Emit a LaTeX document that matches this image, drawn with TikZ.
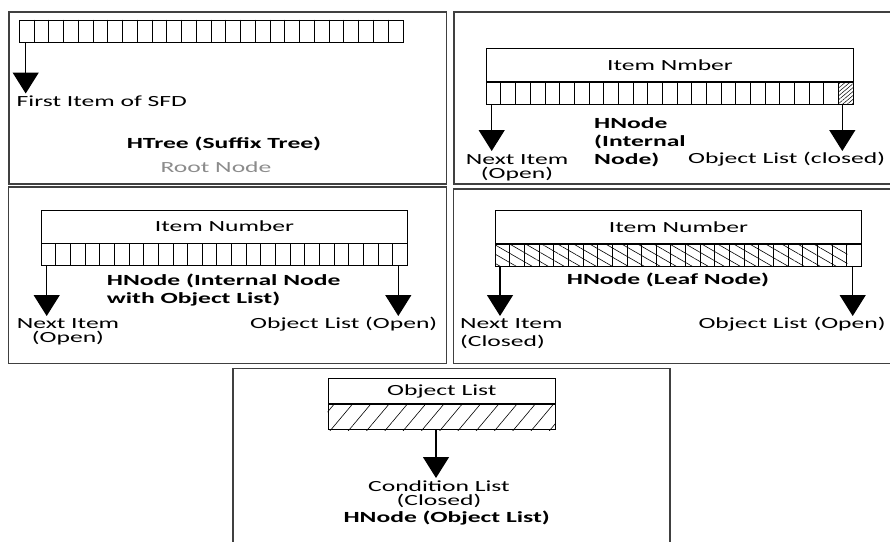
\documentclass[tikz,border=0pt]{standalone}
\usepackage{fontspec}
\setmainfont{Carlito}[FakeStretch=1.65]
\usetikzlibrary{arrows.meta,patterns.meta,positioning}

\tikzset{
  panel/.style={draw=black!75, line width=1.3pt},
  field/.style={draw, line width=0.9pt, inner sep=0pt, anchor=north west},
  txt/.style={inner sep=0pt, font=\fontsize{15.5}{14.5}\selectfont},
  bold/.style={inner sep=0pt, font=\fontsize{15.5}{18}\selectfont\bfseries},
  link/.style={-{Triangle[width=26pt,length=21pt]}, line width=1.3pt}
}

\begin{document}
\begin{tikzpicture}[x=1pt, y=-1pt]
    \useasboundingbox (0,0) rectangle (890,541);
    \clip (0,0) rectangle (890,541);

    % HTree (root node)
    \draw[panel] (9,12) rectangle (446.5,184);
    \node[field, minimum width=383.5pt, minimum height=22pt] (row1) at (19,19.5) {};
    \foreach \i in {1,...,25}
        \draw ([xshift=\i*14.75pt]row1.north west) -- ([xshift=\i*14.75pt]row1.south west);
    \coordinate (first1) at (25.7,93.5);
    \draw[link] (row1.south -| first1) -- (first1);
    \node[txt, anchor=north west] (firstlbl1) at (16.5,96) {First Item of SFD};
    \node[bold] (title1) at (224,144) {HTree (Suffix Tree)};
    \node[txt, text=black!45] (root1) at (216,166.7) {Root Node};

    % HNode (internal node)
    \draw[panel] (454,12) rectangle (900,184);
    \node[field, minimum width=367pt, minimum height=33pt, txt] (num2) at (486,48) {Item Nmber};
    \node[field, minimum width=367pt, minimum height=22pt] (row2) at (num2.south west) {};
    \fill[pattern={Lines[angle=40,distance=3pt,line width=0.5pt]}]
        ([xshift=-14.68pt]row2.north east) rectangle (row2.south east);
    \foreach \i in {1,...,24}
        \draw ([xshift=\i*14.68pt]row2.north west) -- ([xshift=\i*14.68pt]row2.south west);
    \coordinate (next2) at (491.7,151);
    \coordinate (obj2) at (842.3,151);
    \draw[link] (row2.south -| next2) -- (next2);
    \draw[link] (row2.south -| obj2) -- (obj2);
    \node[txt, align=center, anchor=north] (nextlbl2) at (517,154) {Next Item\\(Open)};
    \node[bold, align=left, anchor=north west] (title2) at (594,117) {HNode\\(Internal\\Node)};
    \node[txt, anchor=north west] (objlbl2) at (688,151.5) {Object List (closed)};

    % HNode (internal node with object list)
    \draw[panel] (8.5,187) rectangle (446.5,363.5);
    \node[field, minimum width=366pt, minimum height=33pt, txt] (num3) at (41,209.5) {Item Number};
    \node[field, minimum width=366pt, minimum height=22pt] (row3) at (num3.south west) {};
    \foreach \i in {1,...,24}
        \draw ([xshift=\i*14.64pt]row3.north west) -- ([xshift=\i*14.64pt]row3.south west);
    \coordinate (next3) at (46.7,316);
    \coordinate (obj3) at (398.3,316);
    \draw[link] (row3.south -| next3) -- (next3);
    \draw[link] (row3.south -| obj3) -- (obj3);
    \node[txt, align=center, anchor=north] (nextlbl3) at (68,318) {Next Item\\(Open)};
    \node[bold, align=left, anchor=north west] (title3) at (106.7,273.3) {HNode (Internal Node\\with Object List)};
    \node[txt, anchor=north west] (objlbl3) at (250,316.7) {Object List (Open)};

    % HNode (leaf node)
    \draw[panel] (453.5,189) rectangle (900,363.5);
    \node[field, minimum width=366pt, minimum height=33pt, txt] (num4) at (495,210) {Item Number};
    \node[field, minimum width=366pt, minimum height=22pt] (row4) at (num4.south west) {};
    \fill[pattern={Lines[angle=-30,distance=8pt,line width=0.6pt]}]
        (row4.north west) rectangle ([xshift=-14.64pt]row4.south east);
    \foreach \i in {1,...,24}
        \draw ([xshift=\i*14.64pt]row4.north west) -- ([xshift=\i*14.64pt]row4.south west);
    \node[bold] (title4) at (668,280) {HNode (Leaf Node)};
    \coordinate (next4) at (500,316);
    \coordinate (obj4) at (852.7,316);
    \draw[link] (row4.south -| next4) -- (next4);
    \draw[link] (row4.south -| obj4) -- (obj4);
    \node[txt, align=left, anchor=north west] (nextlbl4) at (460,318) {Next Item\\[4pt](Closed)};
    \node[txt, anchor=north west] (objlbl4) at (698.3,316.7) {Object List (Open)};

    % HNode (object list)
    \draw[panel] (233,368.5) rectangle (670,560);
    \node[field, minimum width=227.3pt, minimum height=25.7pt, txt] (num5) at (327.7,377.7) {Object List};
    \node[field, minimum width=227.3pt, minimum height=25pt] (row5) at (num5.south west) {};
    \fill[pattern={Lines[angle=50,distance=14pt,line width=0.6pt]}]
        (row5.north west) rectangle (row5.south east);
    \coordinate (cond5) at (436,478);
    \draw[link] (row5.south -| cond5) -- (cond5);
    \node[txt, align=center, anchor=north] (condlbl5) at (439,480.5) {Condition List\\(Closed)};
    \node[bold] (title5) at (446.7,518.5) {HNode (Object List)};
\end{tikzpicture}
\end{document}
